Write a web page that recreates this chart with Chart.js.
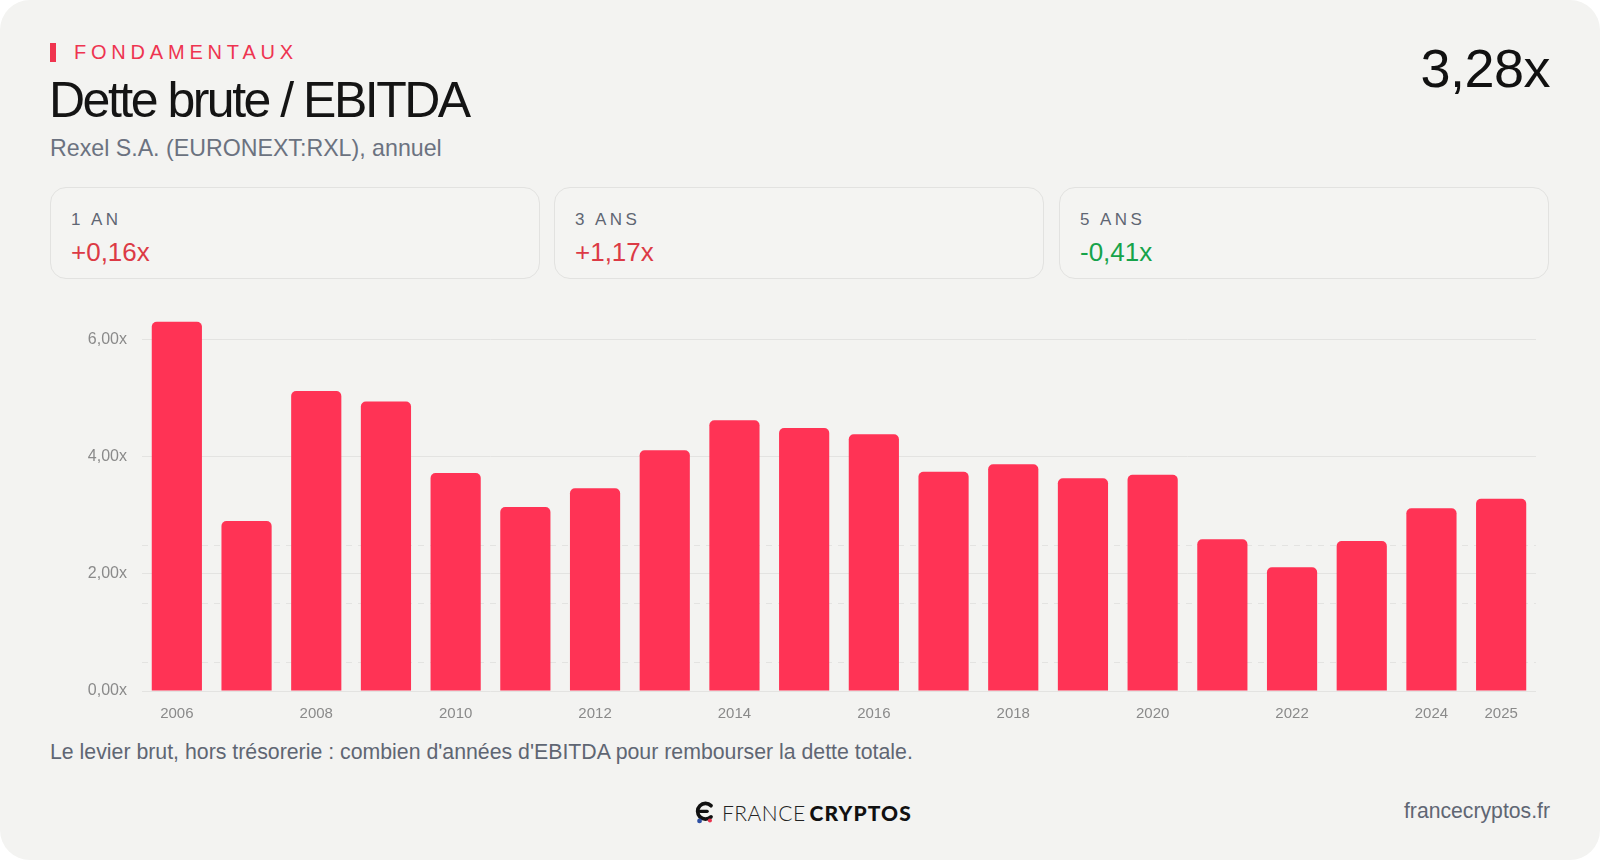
<!DOCTYPE html>
<html><head><meta charset="utf-8">
<script src="https://cdn.jsdelivr.net/npm/chart.js@4.4.1/dist/chart.umd.min.js"></script>
<style>
html,body{margin:0;padding:0;background:#ffffff;}
body{width:1600px;height:860px;position:relative;overflow:hidden;font-family:"Liberation Sans",Arial,Helvetica,sans-serif;}
#card{position:absolute;left:0;top:0;width:1600px;height:860px;background:#f3f3f1;border-radius:30px;}
.abs{position:absolute;white-space:nowrap;line-height:1;}
#marker{left:50px;top:43px;width:6px;height:19px;background:#f0344f;}
#kicker{left:74px;top:42px;font-size:20px;letter-spacing:4.8px;color:#ee3450;}
#title{left:49px;top:75px;font-size:50px;letter-spacing:-2.5px;color:#141414;}
#subtitle{left:50px;top:137px;font-size:23.2px;color:#6b7280;}
#big{right:50px;top:41px;font-size:54px;color:#111111;letter-spacing:-0.5px;}
.stat{position:absolute;top:187px;width:490px;height:92px;box-sizing:border-box;border:1.5px solid #e2e2e0;border-radius:16px;background:#f4f4f2;}
.stat .lab{position:absolute;left:20px;top:23px;font-size:17px;letter-spacing:3.4px;color:#5f6673;line-height:1;}
.stat .val{position:absolute;left:20px;top:51px;font-size:26px;line-height:1;}
.up{color:#dc3a45;}
.down{color:#16a34a;}
#chartbox{position:absolute;left:50px;top:300px;width:1490px;height:430px;}
#note{left:50px;top:742px;font-size:21.3px;color:#5f6673;}
#url{right:50px;top:800px;font-size:21.2px;color:#5f6673;}
#logo{position:absolute;left:693px;top:799px;height:26px;display:flex;align-items:center;}
#logo .f{font-family:Lato,"Open Sans",sans-serif;font-weight:300;font-size:21px;letter-spacing:0.5px;color:#222;margin-left:5px;}
#logo .c{font-family:Lato,"Open Sans",sans-serif;font-weight:900;font-size:21px;letter-spacing:1.1px;color:#111;margin-left:4px;}
</style>
</head>
<body>
<div id="card"></div>
<div class="abs" id="marker"></div>
<div class="abs" id="kicker">FONDAMENTAUX</div>
<div class="abs" id="title">Dette brute / EBITDA</div>
<div class="abs" id="subtitle">Rexel S.A. (EURONEXT:RXL), annuel</div>
<div class="abs" id="big">3,28x</div>

<div class="stat" style="left:50px"><div class="lab">1 AN</div><div class="val up">+0,16x</div></div>
<div class="stat" style="left:554px"><div class="lab">3 ANS</div><div class="val up">+1,17x</div></div>
<div class="stat" style="left:1059px"><div class="lab">5 ANS</div><div class="val down">-0,41x</div></div>

<div id="chartbox"><canvas id="c"></canvas></div>

<div class="abs" id="note">Le levier brut, hors trésorerie : combien d'années d'EBITDA pour rembourser la dette totale.</div>

<div id="logo">
<svg width="24" height="24" viewBox="0 0 22 22">
<path d="M16.5 5.2 A7.2 7.2 0 1 0 16.5 15.5" fill="none" stroke="#111" stroke-width="3.4" stroke-linecap="round"/>
<path d="M6.5 10.4 H13" stroke="#111" stroke-width="3" stroke-linecap="round"/>
<circle cx="6" cy="19.2" r="2.2" fill="#2d4fa3"/>
<circle cx="15.5" cy="18.8" r="1.9" fill="#e8344f"/>
</svg>
<span class="f">FRANCE</span><span class="c">CRYPTOS</span>
</div>
<div class="abs" id="url">francecryptos.fr</div>

<script>
const years = ["2006","2007","2008","2009","2010","2011","2012","2013","2014","2015","2016","2017","2018","2019","2020","2021","2022","2023","2024","2025"];
const leverage = [6.30,2.90,5.12,4.94,3.72,3.14,3.46,4.11,4.62,4.49,4.38,3.74,3.87,3.63,3.69,2.59,2.11,2.56,3.12,3.28];
const yTicks = [0,2,4,6];
const dashedRefs = [0.5,1.5,2.5];

const fmt = v => v.toFixed(2).replace('.', ',') + 'x';

const dashedLines = {
  id: 'dashedLines',
  beforeDatasetsDraw(chart) {
    const {ctx, chartArea, scales} = chart;
    ctx.save();
    ctx.strokeStyle = '#e3e3e1';
    ctx.lineWidth = 1;
    ctx.setLineDash([6, 6]);
    dashedRefs.forEach(v => {
      const y = Math.round(scales.y.getPixelForValue(v)) + 0.5;
      ctx.beginPath();
      ctx.moveTo(chartArea.left, y);
      ctx.lineTo(chartArea.right, y);
      ctx.stroke();
    });
    ctx.restore();
  }
};

new Chart(document.getElementById('c'), {
  type: 'bar',
  data: {
    labels: years,
    datasets: [{
      data: leverage,
      backgroundColor: '#ff3355',
      borderRadius: {topLeft: 5, topRight: 5, bottomLeft: 0, bottomRight: 0},
      borderSkipped: false,
      categoryPercentage: 0.72,
      barPercentage: 1.0
    }]
  },
  options: {
    responsive: true,
    maintainAspectRatio: false,
    animation: false,
    layout: {padding: {top: 16, right: 4, bottom: 0, left: 0}},
    plugins: {legend: {display: false}, tooltip: {enabled: false}},
    scales: {
      x: {
        grid: {display: false},
        border: {display: false},
        ticks: {
          autoSkip: false, maxRotation: 0, padding: 6,
          color: '#8a8a8a',
          font: {family: '"Liberation Sans", Arial, sans-serif', size: 15},
          callback: function(v, i) { return (i % 2 === 0 || i === years.length - 1) ? years[i] : ''; }
        },
        afterFit: s => { s.height = 39; s.paddingLeft = 0; s.paddingRight = 0; }
      },
      y: {
        min: 0, max: 6.4,
        afterBuildTicks: s => { s.ticks = yTicks.map(v => ({value: v})); },
        grid: {color: '#e3e3e1', lineWidth: 1, drawTicks: false},
        border: {display: false},
        ticks: {
          padding: 15,
          color: '#8a8a8a',
          font: {family: '"Liberation Sans", Arial, sans-serif', size: 16},
          callback: v => fmt(v)
        },
        afterFit: s => { s.width = 92; s.paddingTop = 0; s.paddingBottom = 0; }
      }
    }
  },
  plugins: [dashedLines]
});
</script>
</body></html>
